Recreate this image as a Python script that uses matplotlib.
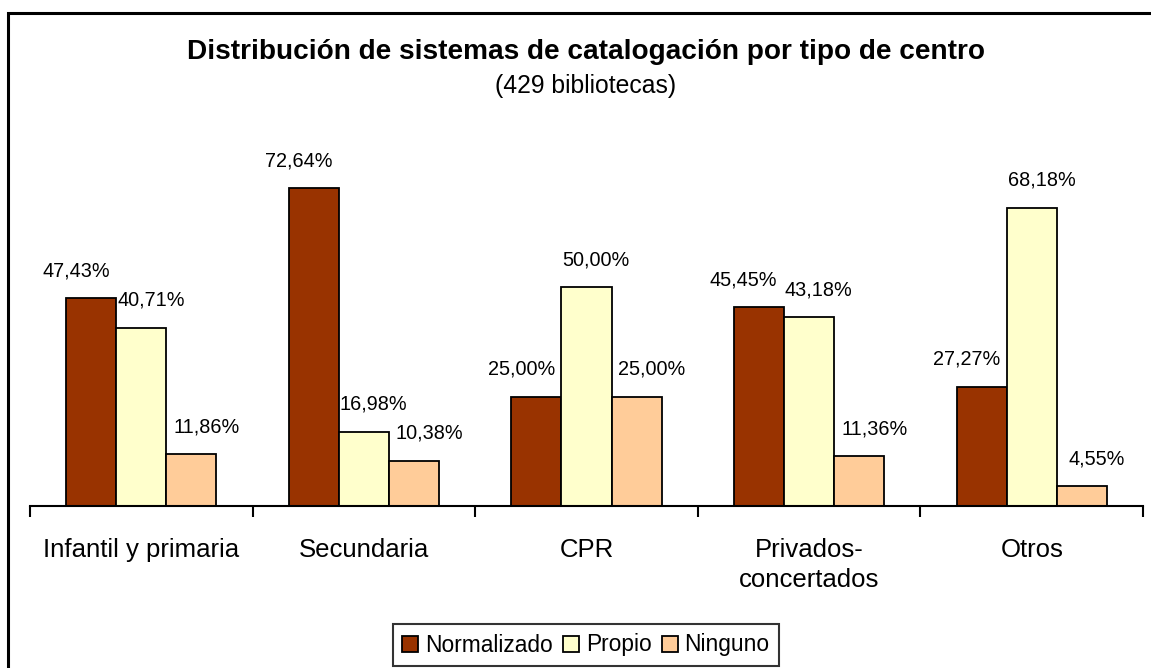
import numpy as np
import matplotlib.pyplot as plt
from matplotlib.patches import Rectangle

plt.rcParams["font.family"] = ["Liberation Sans", "DejaVu Sans"]

# data
categories = ["Infantil y primaria", "Secundaria", "CPR", "Privados-\nconcertados", "Otros"]
series = ["Normalizado", "Propio", "Ninguno"]
normalizado = [47.43, 72.64, 25.00, 45.45, 27.27]
propio = [40.71, 16.98, 50.00, 43.18, 68.18]
ninguno = [11.86, 10.38, 25.00, 11.36, 4.55]
values = [normalizado, propio, ninguno]
colors = ["#993300", "#FFFFCC", "#FFCC99"]

# horizontal nudge of the value labels per series (points), as Excel places them
label_dx = [-11, 7, 11]

W, H = 1151, 668
fig = plt.figure(figsize=(W / 100, H / 100), dpi=100)

# outer chart border
fig.patches.append(Rectangle((8 / W, -0.02), 1.05, (H - 13) / H + 0.02,
                             transform=fig.transFigure, fill=False,
                             edgecolor="black", linewidth=2.2, zorder=0))

ax = fig.add_axes([30 / W, (H - 506) / H, (1143 - 30) / W, 350 / H])

x = np.arange(len(categories))
bw = 0.225
for i, (name, vals, c) in enumerate(zip(series, values, colors)):
    pos = x + (i - 1) * bw
    ax.bar(pos, vals, width=bw, color=c, edgecolor="black", linewidth=1.3,
           label=name, zorder=2)
    for px, v in zip(pos, vals):
        ax.annotate(f"{v:.2f}%".replace(".", ","), (px, v), xytext=(label_dx[i], 13),
                    textcoords="offset points", ha="center", va="bottom",
                    fontsize=14.3)

ax.set_xlim(-0.5, len(categories) - 0.5)
ax.set_ylim(0, 80)
for s in ["top", "right", "left"]:
    ax.spines[s].set_visible(False)
ax.spines["bottom"].set_linewidth(1.5)
ax.set_yticks([])
ax.set_xticks(np.arange(len(categories) + 1) - 0.5)
ax.set_xticklabels([])
ax.tick_params(axis="x", direction="out", length=8, width=1.5)
ax.set_xticks(x, minor=True)
ax.set_xticklabels(categories, minor=True, fontsize=18.5, linespacing=1.3)
ax.tick_params(axis="x", which="minor", length=0, pad=23)

fig.text(586 / W, (H - 52) / H, "Distribución de sistemas de catalogación por tipo de centro",
         ha="center", va="center", fontsize=20.2, fontweight="bold")
fig.text(586 / W, (H - 86) / H, "(429 bibliotecas)", ha="center", va="center",
         fontsize=17.8)

leg = fig.legend(loc="center", bbox_to_anchor=(586 / W, (H - 645) / H), ncol=3,
                 fontsize=16.4, frameon=True, fancybox=False, edgecolor="black",
                 handlelength=0.7, handleheight=0.7, handletextpad=0.3,
                 columnspacing=0.45, borderpad=0.42, borderaxespad=0)
leg.get_frame().set_linewidth(1.5)

fig.savefig("out.png", dpi=100)
